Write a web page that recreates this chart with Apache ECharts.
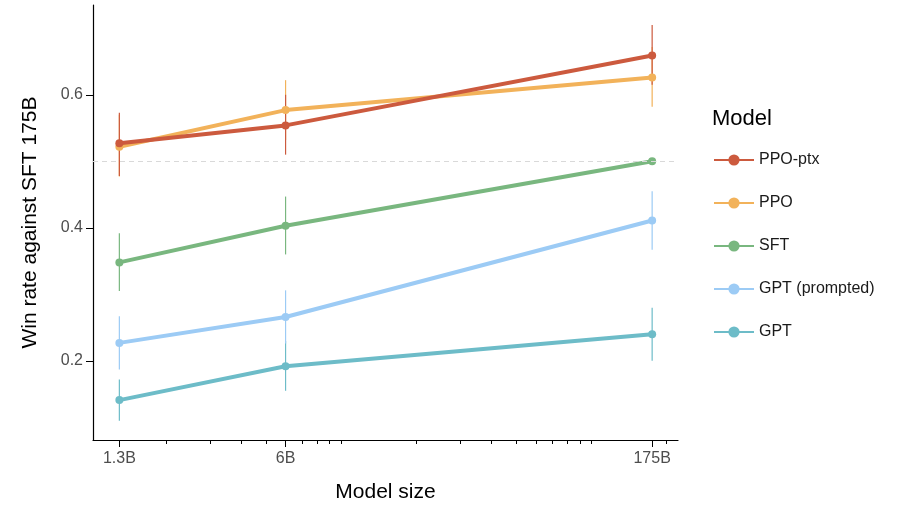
<!DOCTYPE html>
<html><head><meta charset="utf-8">
<script src="https://cdn.jsdelivr.net/npm/echarts@6/dist/echarts.min.js"></script>
<style>html,body{margin:0;padding:0;background:#fff}#c{width:915px;height:511px}</style>
</head><body><div id="c"></div>
<script>
// model sizes in billions
var sizes = [1.3, 6, 175];
var sizeLabels = ['1.3B', '6B', '175B'];
var minorTicks = [2, 3, 4, 5, 7, 8, 9, 10, 20, 30, 40, 50, 60, 70, 80, 90, 100, 200];

var models = ['PPO-ptx', 'PPO', 'SFT', 'GPT (prompted)', 'GPT'];
var colors = ['#cc5a3e', '#f2b25a', '#79b77f', '#9ccbf5', '#6dbcc8'];
var ppoPtx = [0.527, 0.554, 0.659];
var ppoPtxLo = [0.478, 0.51, 0.615];
var ppoPtxHi = [0.573, 0.6, 0.705];
var ppo = [0.522, 0.577, 0.626];
var ppoLo = [0.477, 0.532, 0.582];
var ppoHi = [0.57, 0.622, 0.672];
var sft = [0.348, 0.403, 0.5];
var sftLo = [0.305, 0.36, 0.5];
var sftHi = [0.392, 0.447, 0.5];
var gptPrompted = [0.227, 0.266, 0.411];
var gptPromptedLo = [0.187, 0.226, 0.367];
var gptPromptedHi = [0.267, 0.306, 0.455];
var gpt = [0.141, 0.192, 0.24];
var gptLo = [0.11, 0.155, 0.2];
var gptHi = [0.172, 0.23, 0.28];

var vals = [ppoPtx, ppo, sft, gptPrompted, gpt];
var los = [ppoPtxLo, ppoLo, sftLo, gptPromptedLo, gptLo];
var his = [ppoPtxHi, ppoHi, sftHi, gptPromptedHi, gptHi];

function lg(v) { return Math.log10(v); }

var series = [];
// error bars first (drawn under lines)
for (var m = models.length - 1; m >= 0; m--) {
    var ed = [];
    for (var i = 0; i < sizes.length; i++) ed.push([lg(sizes[i]), los[m][i], his[m][i]]);
    series.push({
        type: 'custom', silent: true, z: 1,
        itemStyle: {color: colors[m]},
        data: ed,
        renderItem: function (params, api) {
            var a = api.coord([api.value(0), api.value(1)]);
            var b = api.coord([api.value(0), api.value(2)]);
            return {type: 'line', shape: {x1: a[0], y1: a[1], x2: b[0], y2: b[1]},
                style: {stroke: api.visual('color'), lineWidth: 1.2}};
        }
    });
}
for (var m = models.length - 1; m >= 0; m--) {
    var d = [];
    for (var i = 0; i < sizes.length; i++) d.push([lg(sizes[i]), vals[m][i]]);
    var s = {
        name: models[m], type: 'line', data: d, z: 3,
        symbol: 'circle', symbolSize: 8,
        itemStyle: {color: colors[m]},
        lineStyle: {width: 4, color: colors[m]}
    };
    if (m === 4) {
        s.markLine = {silent: true, symbol: 'none', label: {show: false},
            lineStyle: {color: '#d9d9d9', type: [5, 4], width: 1},
            data: [{yAxis: 0.5}]};
    }
    series.push(s);
}

var chart = echarts.init(document.getElementById('c'));
chart.setOption({
    animation: false,
    textStyle: {fontFamily: 'Liberation Sans, Arial, sans-serif'},
    grid: {left: 93, right: 237, top: 5, bottom: 71},
    legend: {
        data: models, orient: 'vertical', left: 708, top: 147,
        itemWidth: 40, itemHeight: 14, itemGap: 27,
        textStyle: {fontSize: 16, color: '#1a1a1a'}
    },
    graphic: [{type: 'text', left: 712, top: 108,
        style: {text: 'Model', fontSize: 22, fill: '#000', fontFamily: 'Liberation Sans, Arial, sans-serif'}}],
    xAxis: [{
        type: 'value', min: lg(1.02), max: lg(222),
        name: 'Model size', nameLocation: 'middle', nameGap: 42,
        nameTextStyle: {fontSize: 21, color: '#000'},
        axisLine: {show: true, lineStyle: {color: '#000', width: 1.2}},
        axisTick: {show: true, length: 7, lineStyle: {color: '#000'},
            customValues: sizes.map(lg)},
        axisLabel: {fontSize: 16, color: '#4d4d4d', margin: 11,
            customValues: sizes.map(lg),
            formatter: function (v) {
                for (var i = 0; i < sizes.length; i++) if (Math.abs(lg(sizes[i]) - v) < 1e-6) return sizeLabels[i];
                return '';
            }},
        splitLine: {show: false}
    }, {
        type: 'value', min: lg(1.02), max: lg(222), position: 'bottom',
        axisLine: {show: false},
        axisTick: {show: true, length: 4, lineStyle: {color: '#000'},
            customValues: minorTicks.map(lg)},
        axisLabel: {show: false}, splitLine: {show: false}
    }],
    yAxis: {
        type: 'value', min: 0.081, max: 0.735, interval: 0.2,
        name: 'Win rate against SFT 175B', nameLocation: 'middle', nameGap: 52,
        nameTextStyle: {fontSize: 21, color: '#000'},
        axisLine: {show: true, lineStyle: {color: '#000', width: 1.2}},
        axisTick: {show: true, length: 7, lineStyle: {color: '#000'}, customValues: [0.2, 0.4, 0.6]},
        axisLabel: {fontSize: 16, color: '#4d4d4d', margin: 10, customValues: [0.2, 0.4, 0.6],
            formatter: function (v) { return v.toFixed(1); }},
        splitLine: {show: false}
    },
    series: series
});
</script>
</body></html>
